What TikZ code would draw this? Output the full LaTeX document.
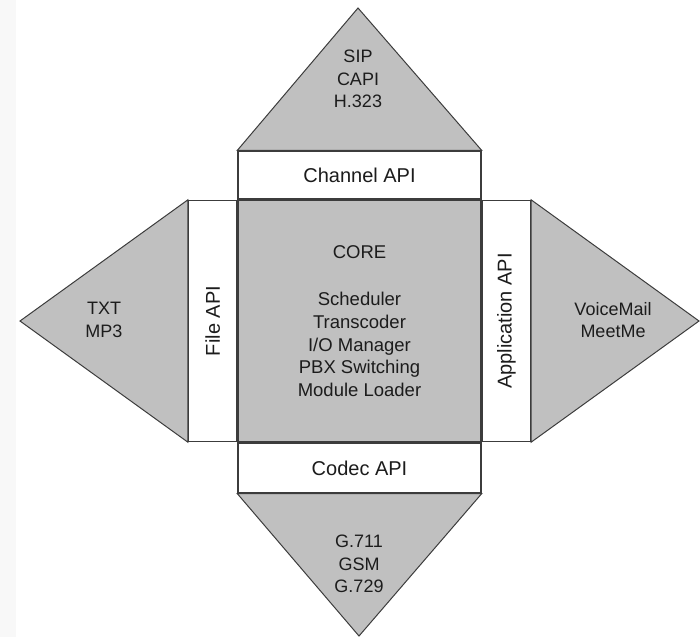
\documentclass[tikz,border=0pt]{standalone}
\usepackage{fontspec}
\setmainfont{Liberation Sans}
\usetikzlibrary{positioning}
\definecolor{LayerFill}{HTML}{C0C0C0}
\definecolor{LayerLine}{HTML}{3C3C3C}
\definecolor{LayerText}{HTML}{1C1C1C}
\definecolor{PageStrip}{HTML}{F8F8F8}

\begin{document}
\begin{tikzpicture}[x=1pt,y=-1pt,
    api/.style={draw=LayerLine,line width=1.4pt,fill=white,inner sep=0pt,
      align=center,text=LayerText,font=\fontsize{20}{24}\selectfont},
    lobe/.style={draw=LayerLine,line width=1pt,fill=LayerFill},
    lobetext/.style={align=center,text=LayerText,font=\fontsize{18}{22.5}\selectfont}]
  \useasboundingbox (0,0) rectangle (700,637);
  \fill[PageStrip] (0,0) rectangle (16,637);

  % apexes of the four outer lobes
  \coordinate (siptip) at (358,8);
  \coordinate (filetip) at (20,321);
  \coordinate (apptip) at (699,321);
  \coordinate (codectip) at (359,636);

  % core and its four interfaces
  \node[api,fill=LayerFill,minimum width=243pt,minimum height=241pt,
    font=\fontsize{18.5}{22.6}\selectfont] (core) at (359.5,321)
    {CORE\\[25pt]Scheduler\\Transcoder\\I/O Manager\\PBX Switching\\Module Loader};
  \node[api,minimum width=243pt,minimum height=48pt,above=0pt of core] (chan) {Channel API};
  \node[api,minimum width=243pt,minimum height=50pt,below=0pt of core] (codec) {Codec API};
  \node[api,rotate=90,anchor=south,minimum width=241pt,minimum height=48pt] (file) at (core.west) {File API};
  \node[api,rotate=90,anchor=north,minimum width=241pt,minimum height=48pt] (app) at (core.east) {Application API};

  % outer lobes
  \draw[lobe] (chan.north west) -- (siptip) -- (chan.north east) -- cycle;
  \draw[lobe] (file.north west) -- (filetip) -- (file.north east) -- cycle;
  \draw[lobe] (app.south west) -- (apptip) -- (app.south east) -- cycle;
  \draw[lobe] (codec.south west) -- (codectip) -- (codec.south east) -- cycle;

  \node[lobetext] (sig) at (358,79) {SIP\\CAPI\\H.323};
  \node[lobetext] (media) at (104,320) {TXT\\MP3};
  \node[lobetext] (apps) at (613,320) {VoiceMail\\MeetMe};
  \node[lobetext] (codecs) at (359,564) {G.711\\GSM\\G.729};
\end{tikzpicture}
\end{document}
